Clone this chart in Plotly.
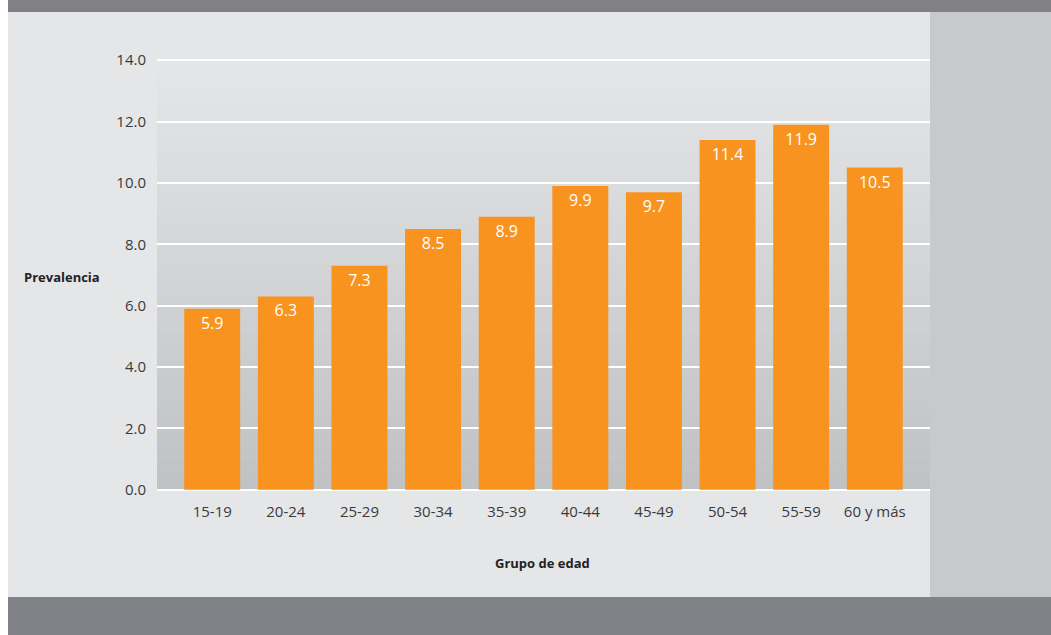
import plotly.graph_objects as go

# Prevalence by age group
grupos = ["15-19", "20-24", "25-29", "30-34", "35-39", "40-44", "45-49", "50-54", "55-59", "60 y más"]
prevalencia = [5.9, 6.3, 7.3, 8.5, 8.9, 9.9, 9.7, 11.4, 11.9, 10.5]
y_ticks = [0, 2, 4, 6, 8, 10, 12, 14]

W, H = 1051, 635
PL, PR, PT, PB = 157, 930, 59, 491  # plot area in pixels
Y_PAD = 0.04  # keeps the 0 and 14 gridlines inside the axis range

FONT = "Open Sans"
ORANGE = "#f7931e"


def px_x(p):
    return (p - PL) / (PR - PL)


def px_y(p):
    return (PB - p) / (PB - PT)


def mix(c1, c2, t):
    a = [int(c1[i:i + 2], 16) for i in (1, 3, 5)]
    b = [int(c2[i:i + 2], 16) for i in (1, 3, 5)]
    return "#" + "".join(f"{round(a[k] + (b[k] - a[k]) * t):02x}" for k in range(3))


shapes = []


def rect(x0, y0, x1, y1, color, layer="below"):
    shapes.append(dict(type="rect", xref="paper", yref="paper",
                       x0=px_x(x0), x1=px_x(x1), y0=px_y(y1), y1=px_y(y0),
                       fillcolor=color, line=dict(width=0), layer=layer))


# page frame: bands and panels
rect(8, 0, W, 12, "#808085")
rect(8, 12, 930, 597, "#e5e6e8")
rect(930, 12, W, 597, "#c8c9cb")
rect(8, 597, W, H, "#818287")

# vertical gradient behind the bars
G_TOP, G_BOT = 60, 490
n = 80
bottom_c, top_c = "#c0c1c3", "#e5e6e8"
for i in range(n):
    y0 = G_BOT - (G_BOT - G_TOP) * i / n
    y1 = G_BOT - (G_BOT - G_TOP) * (i + 1) / n
    rect(PL, y1 - 0.5, PR, y0, mix(bottom_c, top_c, (i + 0.5) / n))

fig = go.Figure(go.Bar(
    x=list(range(len(grupos))),
    y=prevalencia,
    width=0.76,
    marker=dict(color=ORANGE, line=dict(width=0)),
    text=[f"{v:.1f}" for v in prevalencia],
    textposition="inside",
    insidetextanchor="end",
    textfont=dict(family=FONT, size=16, color="white"),
    hoverinfo="skip",
))

fig.update_layout(
    width=W, height=H,
    margin=dict(l=PL, r=W - PR, t=PT, b=H - PB, pad=0),
    paper_bgcolor="white",
    plot_bgcolor="rgba(0,0,0,0)",
    showlegend=False,
    shapes=shapes,
    xaxis=dict(
        range=[-0.75, 9.75],
        tickmode="array",
        tickvals=list(range(len(grupos))),
        ticktext=grupos,
        showgrid=False, zeroline=False, showline=False,
        ticks="", ticklabelstandoff=10,
        tickfont=dict(family=FONT, size=15, color="#3a3a3c"),
    ),
    yaxis=dict(
        range=[-Y_PAD, 14 + Y_PAD],
        tickmode="array",
        tickvals=y_ticks,
        ticktext=[f"{v:.1f}" for v in y_ticks],
        showgrid=True, gridcolor="white", gridwidth=2.3,
        zeroline=False, showline=False,
        ticks="", ticklabelstandoff=10,
        tickfont=dict(family=FONT, size=15, color="#3a3a3c"),
    ),
    annotations=[
        dict(text="<b>Prevalencia</b>", xref="paper", yref="paper",
             x=px_x(62), y=px_y(277), xanchor="center", yanchor="middle",
             showarrow=False, font=dict(family=FONT, size=13, color="#222222")),
        dict(text="<b>Grupo de edad</b>", xref="paper", yref="paper",
             x=px_x(542), y=px_y(563), xanchor="center", yanchor="middle",
             showarrow=False, font=dict(family=FONT, size=13, color="#222222")),
    ],
)

fig.write_html("out.html")
